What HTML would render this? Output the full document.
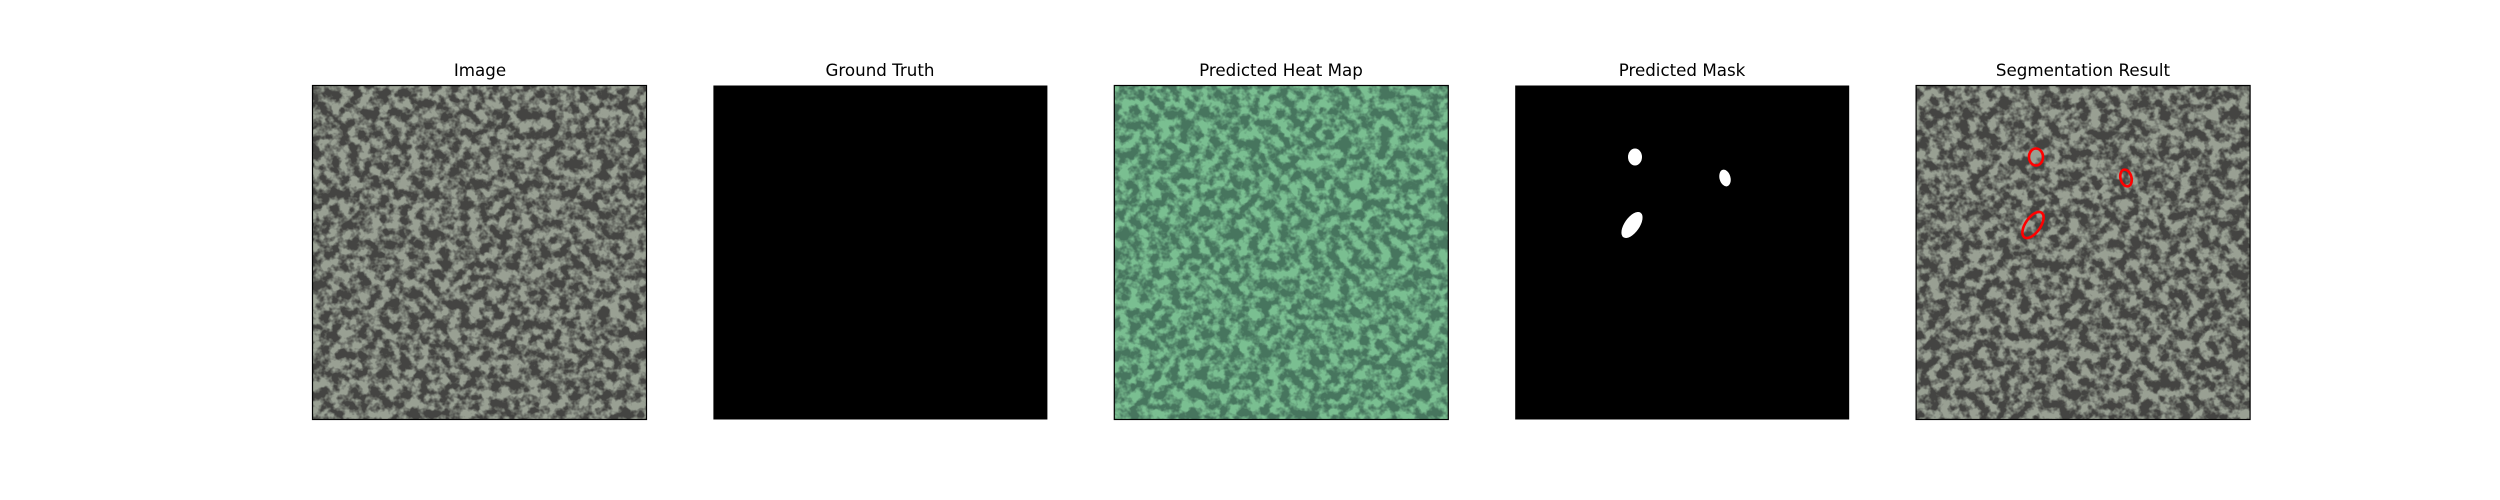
<!DOCTYPE html>
<html><head><meta charset="utf-8"><style>
html,body{margin:0;padding:0;background:#fff;width:2500px;height:500px;overflow:hidden}
text{font-family:"DejaVu Sans","Liberation Sans",sans-serif;font-size:16.7px;fill:#000}
</style></head><body>
<svg width="2500" height="500" viewBox="0 0 2500 500">
<defs>
<filter id="tex" x="0" y="0" width="100%" height="100%" filterUnits="objectBoundingBox" color-interpolation-filters="sRGB">
 <feTurbulence type="fractalNoise" baseFrequency="0.1" numOctaves="3" seed="7"/>
 <feColorMatrix type="matrix" values="1 0 0 0 0 1 0 0 0 0 1 0 0 0 0 0 0 0 0 1"/>
 <feComponentTransfer>
  <feFuncR type="linear" slope="4" intercept="-1.55"/>
  <feFuncG type="linear" slope="4" intercept="-1.55"/>
  <feFuncB type="linear" slope="4" intercept="-1.55"/>
 </feComponentTransfer>
 <feComponentTransfer>
  <feFuncR type="table" tableValues="0.27 0.6"/>
  <feFuncG type="table" tableValues="0.27 0.63"/>
  <feFuncB type="table" tableValues="0.26 0.58"/>
 </feComponentTransfer>
</filter>
<filter id="heat" x="0" y="0" width="100%" height="100%" filterUnits="objectBoundingBox" color-interpolation-filters="sRGB">
 <feTurbulence type="fractalNoise" baseFrequency="0.1" numOctaves="3" seed="7"/>
 <feColorMatrix type="matrix" values="1 0 0 0 0 1 0 0 0 0 1 0 0 0 0 0 0 0 0 1"/>
 <feComponentTransfer>
  <feFuncR type="linear" slope="4" intercept="-1.55"/>
  <feFuncG type="linear" slope="4" intercept="-1.55"/>
  <feFuncB type="linear" slope="4" intercept="-1.55"/>
 </feComponentTransfer>
 <feComponentTransfer>
  <feFuncR type="table" tableValues="0.28 0.48"/>
  <feFuncG type="table" tableValues="0.46 0.75"/>
  <feFuncB type="table" tableValues="0.37 0.57"/>
 </feComponentTransfer>
</filter>
</defs>

<text x="480" y="76" text-anchor="middle">Image</text>
<rect x="312.5" y="85.5" width="334" height="334" filter="url(#tex)"/>
<rect x="312.5" y="85.5" width="334" height="334" fill="none" stroke="#000" stroke-width="1.2"/>

<text x="880" y="76" text-anchor="middle">Ground Truth</text>
<rect x="713.4" y="85.5" width="334" height="334" fill="#000"/>

<text x="1281" y="76" text-anchor="middle">Predicted Heat Map</text>
<rect x="1114.3" y="85.5" width="334" height="334" filter="url(#heat)"/>
<rect x="1114.3" y="85.5" width="334" height="334" fill="none" stroke="#000" stroke-width="1.2"/>

<text x="1682" y="76" text-anchor="middle">Predicted Mask</text>
<rect x="1515.2" y="85.5" width="334" height="334" fill="#000"/>
<g fill="#fff">
 <ellipse cx="1635" cy="157" rx="7" ry="8.5"/>
 <ellipse cx="1725" cy="178" rx="5.5" ry="8.5" transform="rotate(-15 1725 178)"/>
 <ellipse cx="1632" cy="225" rx="7.5" ry="15" transform="rotate(35 1632 225)"/>
</g>

<text x="2083" y="76" text-anchor="middle">Segmentation Result</text>
<rect x="1916.1" y="85.5" width="334" height="334" filter="url(#tex)"/>
<rect x="1916.1" y="85.5" width="334" height="334" fill="none" stroke="#000" stroke-width="1.2"/>
<g fill="none" stroke="#f00" stroke-width="2.6">
 <ellipse cx="2036" cy="157" rx="7" ry="8.5"/>
 <ellipse cx="2126" cy="178" rx="5.5" ry="8.5" transform="rotate(-15 2126 178)"/>
 <ellipse cx="2033" cy="225" rx="7.5" ry="15" transform="rotate(35 2033 225)"/>
</g>
</svg>
</body></html>
